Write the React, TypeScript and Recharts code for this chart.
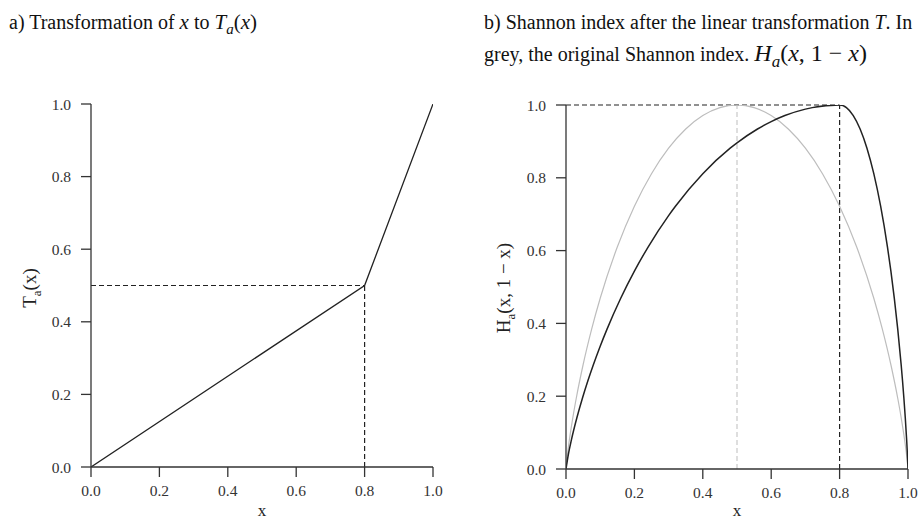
import React from "react";
import { LineChart, Line, XAxis, YAxis, ReferenceLine } from "recharts";

const FONT = '"Liberation Serif", "Times New Roman", serif';
const AXIS = "#333333";

const xTicks = [0, 0.2, 0.4, 0.6, 0.8, 1];
const yTicks = [0, 0.2, 0.4, 0.6, 0.8, 1];

// panel a: piecewise linear transformation, break at a = 0.8
const transformX = [0, 0.8, 1];
const transformY = [0, 0.5, 1];

// panel b: original Shannon index (grey)
const shannonX = [0, 0.005, 0.01, 0.02, 0.03, 0.05, 0.075, 0.1, 0.15, 0.2, 0.25, 0.3, 0.35, 0.4, 0.45, 0.5, 0.55, 0.6, 0.65, 0.7, 0.75, 0.8, 0.85, 0.9, 0.925, 0.95, 0.97, 0.98, 0.99, 0.995, 1];
const shannonY = [0, 0.0454, 0.0808, 0.1414, 0.1944, 0.2864, 0.3843, 0.469, 0.6098, 0.7219, 0.8113, 0.8813, 0.9341, 0.971, 0.9928, 1, 0.9928, 0.971, 0.9341, 0.8813, 0.8113, 0.7219, 0.6098, 0.469, 0.3843, 0.2864, 0.1944, 0.1414, 0.0808, 0.0454, 0];

// panel b: Shannon index after the transformation (black)
const transformedX = [0, 0.008, 0.016, 0.032, 0.048, 0.064, 0.08, 0.1, 0.12, 0.16, 0.2, 0.24, 0.3, 0.32, 0.4, 0.48, 0.5, 0.56, 0.6, 0.64, 0.7, 0.72, 0.8, 0.82, 0.84, 0.86, 0.88, 0.9, 0.92, 0.94, 0.95, 0.96, 0.97, 0.98, 0.984, 0.988, 0.992, 0.996, 0.998, 1];
const transformedY = [0, 0.0454, 0.0808, 0.1414, 0.1944, 0.2423, 0.2864, 0.3373, 0.3843, 0.469, 0.5436, 0.6098, 0.6962, 0.7219, 0.8113, 0.8813, 0.896, 0.9341, 0.9544, 0.971, 0.9887, 0.9928, 1, 0.9928, 0.971, 0.9341, 0.8813, 0.8113, 0.7219, 0.6098, 0.5436, 0.469, 0.3843, 0.2864, 0.2423, 0.1944, 0.1414, 0.0808, 0.0454, 0];

const zip = (xs: number[], ys: number[]) => xs.map((x, i) => ({ x, y: ys[i] }));

const transformData = zip(transformX, transformY);
const shannonData = zip(shannonX, shannonY);
const transformedData = zip(transformedX, transformedY);

const tickStyle = { fill: AXIS, fontSize: 15.5, fontFamily: FONT };
const fmt = (v: number) => v.toFixed(1);
const dash = "5 3";

export default function App() {
  return (
    <div
      style={{
        position: "absolute",
        left: 0,
        top: 0,
        width: 919,
        height: 521,
        background: "#fff",
        fontFamily: FONT,
        color: "#111",
      }}
    >
      <div style={{ position: "absolute", left: 9, top: 7, fontSize: 20, lineHeight: "31px", whiteSpace: "nowrap" }}>
        a) Transformation of <i style={{ fontSize: 21 }}>x</i> to{" "}
        <i style={{ fontSize: 21 }}>T</i>
        <sub style={{ fontSize: 15, lineHeight: 0 }}><i>a</i></sub>
        <span style={{ fontSize: 21 }}>(<i>x</i>)</span>
      </div>
      <div style={{ position: "absolute", left: 484, top: 7, fontSize: 20, lineHeight: "31px", whiteSpace: "nowrap" }}>
        b) Shannon index after the linear transformation <i>T</i>. In
        <br />
        grey, the original Shannon index.{" "}
        <span style={{ fontSize: 24 }}>
          <i>H</i>
          <sub style={{ fontSize: 17, lineHeight: 0 }}><i>a</i></sub>(<i>x</i>, 1 − <i>x</i>)
        </span>
      </div>

      <div style={{ position: "absolute", left: 0, top: 0 }}>
        <LineChart width={460} height={521} margin={{ top: 104, right: 27, bottom: 10, left: 31 }}>
          <XAxis
            dataKey="x"
            type="number"
            domain={[0, 1]}
            ticks={xTicks}
            tickFormatter={fmt}
            tickSize={10}
            tickMargin={8}
            height={44}
            stroke={AXIS}
            strokeWidth={1.3}
            tick={tickStyle}
            allowDataOverflow
          />
          <YAxis
            type="number"
            domain={[0, 1]}
            ticks={yTicks}
            tickFormatter={fmt}
            tickSize={10}
            tickMargin={10}
            width={60}
            stroke={AXIS}
            strokeWidth={1.3}
            tick={tickStyle}
            allowDataOverflow
          />
          <ReferenceLine segment={[{ x: 0, y: 0.5 }, { x: 0.8, y: 0.5 }]} stroke="#222" strokeDasharray={dash} strokeWidth={1.2} />
          <ReferenceLine segment={[{ x: 0.8, y: 0 }, { x: 0.8, y: 0.5 }]} stroke="#222" strokeDasharray={dash} strokeWidth={1.2} />
          <Line data={transformData} dataKey="y" type="linear" stroke="#222" strokeWidth={1.3} dot={false} isAnimationActive={false} />
          <text x={262} y={516} textAnchor="middle" fontSize={17} fontFamily={FONT} fill="#222">x</text>
          <text transform="rotate(-90, 36, 288)" x={36} y={288} textAnchor="middle" fontSize={19} fontFamily={FONT} fill="#222">
            T<tspan dy={5} fontSize={13}>a</tspan><tspan dy={-5}>(x)</tspan>
          </text>
        </LineChart>
      </div>

      <div style={{ position: "absolute", left: 460, top: 0 }}>
        <LineChart width={459} height={521} margin={{ top: 105, right: 11, bottom: 8, left: 46 }}>
          <XAxis
            dataKey="x"
            type="number"
            domain={[0, 1]}
            ticks={xTicks}
            tickFormatter={fmt}
            tickSize={10}
            tickMargin={8}
            height={44}
            stroke={AXIS}
            strokeWidth={1.3}
            tick={tickStyle}
            allowDataOverflow
          />
          <YAxis
            type="number"
            domain={[0, 1]}
            ticks={yTicks}
            tickFormatter={fmt}
            tickSize={10}
            tickMargin={10}
            width={60}
            stroke={AXIS}
            strokeWidth={1.3}
            tick={tickStyle}
            allowDataOverflow
          />
          <ReferenceLine segment={[{ x: 0, y: 1 }, { x: 0.8, y: 1 }]} stroke="#222" strokeDasharray={dash} strokeWidth={1.2} />
          <ReferenceLine segment={[{ x: 0.5, y: 0 }, { x: 0.5, y: 1 }]} stroke="#c8c8c8" strokeDasharray={dash} strokeWidth={1.2} />
          <ReferenceLine segment={[{ x: 0.8, y: 0 }, { x: 0.8, y: 1 }]} stroke="#222" strokeDasharray={dash} strokeWidth={1.2} />
          <Line data={shannonData} dataKey="y" type="monotone" stroke="#bdbdbd" strokeWidth={1.2} dot={false} isAnimationActive={false} />
          <Line data={transformedData} dataKey="y" type="monotone" stroke="#222" strokeWidth={1.5} dot={false} isAnimationActive={false} />
          <text x={277} y={516} textAnchor="middle" fontSize={17} fontFamily={FONT} fill="#222">x</text>
          <text transform="rotate(-90, 50, 288)" x={50} y={288} textAnchor="middle" fontSize={19} fontFamily={FONT} fill="#222">
            H<tspan dy={5} fontSize={13}>a</tspan><tspan dy={-5}>(x, 1 − x)</tspan>
          </text>
        </LineChart>
      </div>
    </div>
  );
}
